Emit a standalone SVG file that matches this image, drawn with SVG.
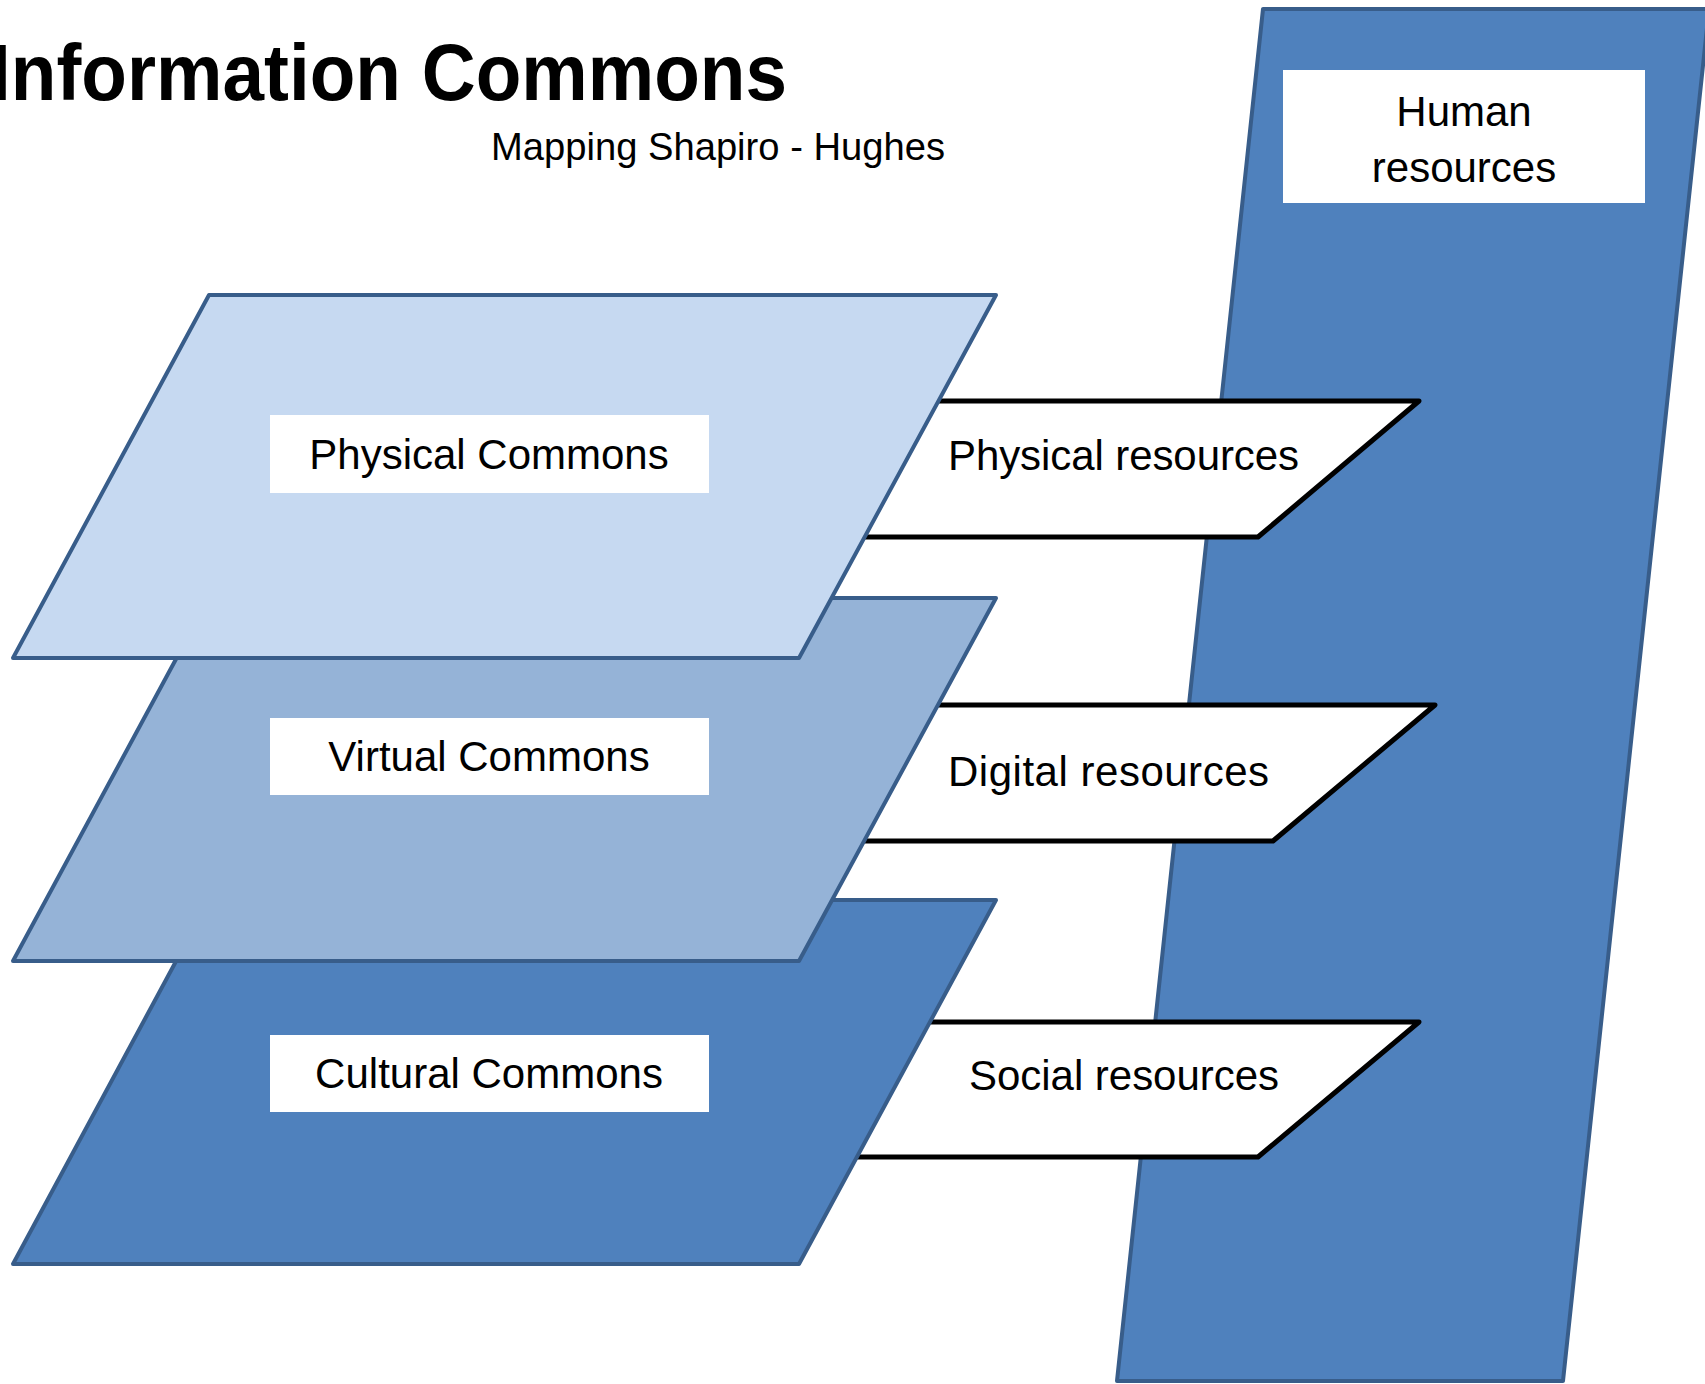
<svg xmlns="http://www.w3.org/2000/svg" width="1705" height="1384" viewBox="0 0 1705 1384">
<style>
.plane{stroke:#385D8A;stroke-width:4;stroke-linejoin:round}
.res{fill:#FFFFFF;stroke:#000000;stroke-width:5;stroke-linejoin:round}
.lbl{fill:#FFFFFF}
.t{font-family:"Liberation Sans",Arial,sans-serif;font-size:42px;fill:#000000}
</style>
<rect width="1705" height="1384" fill="#FFFFFF"/>
<text x="-10" y="100" font-family="Liberation Sans, Arial, sans-serif" font-weight="bold" font-size="80" textLength="797" lengthAdjust="spacingAndGlyphs">Information Commons</text>
<text x="491" y="160" font-family="Liberation Sans, Arial, sans-serif" font-size="39" textLength="454" lengthAdjust="spacingAndGlyphs">Mapping Shapiro - Hughes</text>
<g id="human">
<polygon class="plane" fill="#4F81BD" points="1263,9 1709,9 1563,1381 1117,1381"/>
<rect class="lbl" x="1283" y="70" width="362" height="133"/>
<text class="t" x="1464" y="126" text-anchor="middle">Human</text>
<text class="t" x="1464" y="182" text-anchor="middle">resources</text>
</g>
<g id="physical-resources">
<polygon class="res" points="820,401 1419,401 1258,537 820,537"/>
<text class="t" x="948" y="470" textLength="351">Physical resources</text>
</g>
<g id="digital-resources">
<polygon class="res" points="820,705 1435,705 1273,841 820,841"/>
<text class="t" x="948" y="786" textLength="321">Digital resources</text>
</g>
<g id="social-resources">
<polygon class="res" points="820,1022 1419,1022 1258,1157 820,1157"/>
<text class="t" x="969" y="1090" textLength="310">Social resources</text>
</g>
<g id="cultural">
<polygon class="plane" fill="#4F81BD" points="209,900 996,900 799,1264 13,1264"/>
<rect class="lbl" x="270" y="1035" width="439" height="77"/>
<text class="t" x="489" y="1088" text-anchor="middle">Cultural Commons</text>
</g>
<g id="virtual">
<polygon class="plane" fill="#95B3D7" points="209,598 996,598 799,961 13,961"/>
<rect class="lbl" x="270" y="718" width="439" height="77"/>
<text class="t" x="489" y="771" text-anchor="middle">Virtual Commons</text>
</g>
<g id="physical">
<polygon class="plane" fill="#C6D9F1" points="209,295 996,295 799,658 13,658"/>
<rect class="lbl" x="270" y="415" width="439" height="78"/>
<text class="t" x="489" y="469" text-anchor="middle">Physical Commons</text>
</g>
<g id="connectors"/>
</svg>
